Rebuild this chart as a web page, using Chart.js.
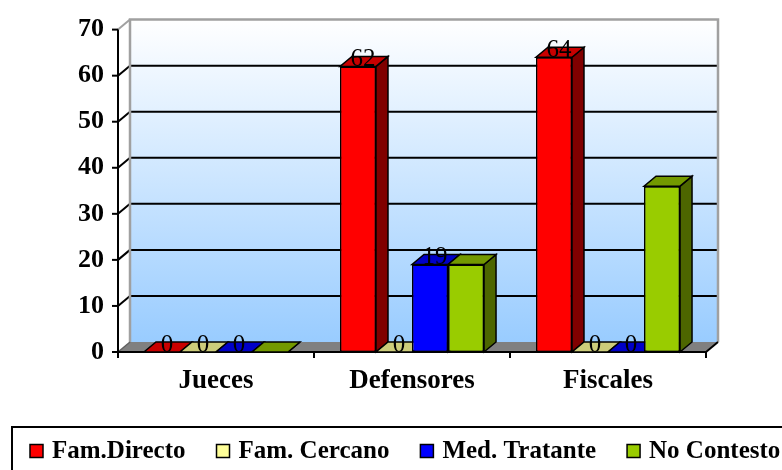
<!DOCTYPE html>
<html>
<head>
<meta charset="utf-8">
<script src="https://cdn.jsdelivr.net/npm/chart.js@4.4.1/dist/chart.umd.min.js"></script>
<style>
  html, body { margin: 0; padding: 0; background: #ffffff; }
  #wrap { width: 782px; height: 470px; }
</style>
</head>
<body>
<div id="wrap"><canvas id="chart" width="782" height="470"></canvas></div>
<script>
// Categories and series values
const categories = ['Jueces', 'Defensores', 'Fiscales'];
const famDirecto = [0, 62, 64];
const famCercano = [0, 0, 0];
const medTratante = [0, 19, 0];
const noContesto = [0, 19, 36];
const yTicks = [0, 10, 20, 30, 40, 50, 60, 70];

// Oblique depth of the pseudo-3D boxes and back wall
const DEPTH_X = 12;
const DEPTH_Y = -10;
const SERIF = '"Liberation Serif", "Times New Roman", serif';

function series(label, data, front, top, side, showValues) {
  return {
    label, data,
    backgroundColor: front,
    topColor: top,
    sideColor: side,
    showValues,
    borderColor: '#000000',
    borderWidth: 1.5,
    borderSkipped: false
  };
}

function poly(ctx, pts, fill, stroke, lw) {
  ctx.beginPath();
  ctx.moveTo(pts[0][0], pts[0][1]);
  for (let i = 1; i < pts.length; i++) ctx.lineTo(pts[i][0], pts[i][1]);
  ctx.closePath();
  if (fill) { ctx.fillStyle = fill; ctx.fill(); }
  if (stroke) { ctx.strokeStyle = stroke; ctx.lineWidth = lw || 1.5; ctx.stroke(); }
}

function line(ctx, x1, y1, x2, y2, color, lw) {
  ctx.beginPath();
  ctx.moveTo(x1, y1);
  ctx.lineTo(x2, y2);
  ctx.strokeStyle = color;
  ctx.lineWidth = lw;
  ctx.stroke();
}

// Back wall, floor, gridlines and axis lines
const stagePlugin = {
  id: 'stage',
  beforeDatasetsDraw(chart) {
    const { ctx, chartArea: a, scales: { x, y } } = chart;
    const L = a.left, R = a.right, T = y.getPixelForValue(yTicks[yTicks.length - 1]), B = y.getPixelForValue(0);
    ctx.save();
    // wall
    const g = ctx.createLinearGradient(0, T + DEPTH_Y, 0, B + DEPTH_Y);
    g.addColorStop(0, '#ffffff');
    g.addColorStop(1, '#99ccff');
    ctx.fillStyle = g;
    ctx.fillRect(L + DEPTH_X, T + DEPTH_Y, R - L, B - T);
    // gridlines on the wall
    yTicks.forEach(v => {
      if (v === 0 || v === yTicks[yTicks.length - 1]) return;
      const py = y.getPixelForValue(v);
      line(ctx, L, py, L + DEPTH_X, py + DEPTH_Y, '#000000', 2);
      line(ctx, L + DEPTH_X, py + DEPTH_Y, R + DEPTH_X, py + DEPTH_Y, '#000000', 2);
    });
    // wall frame
    ctx.lineJoin = 'miter';
    ctx.beginPath();
    ctx.moveTo(L + DEPTH_X, B + DEPTH_Y);
    ctx.lineTo(L + DEPTH_X, T + DEPTH_Y);
    ctx.lineTo(R + DEPTH_X, T + DEPTH_Y);
    ctx.lineTo(R + DEPTH_X, B + DEPTH_Y);
    ctx.strokeStyle = '#a0a0a0';
    ctx.lineWidth = 2.5;
    ctx.stroke();
    line(ctx, L, T, L + DEPTH_X, T + DEPTH_Y, '#a0a0a0', 2);
    // floor
    poly(ctx, [[L, B], [R, B], [R + DEPTH_X, B + DEPTH_Y], [L + DEPTH_X, B + DEPTH_Y]], '#808080', null);
    line(ctx, L, B, L + DEPTH_X, B + DEPTH_Y, '#606060', 1.5);
    line(ctx, R, B, R + DEPTH_X, B + DEPTH_Y, '#000000', 2);
    // value axis
    line(ctx, L, T, L, B + 5, '#000000', 2);
    yTicks.forEach(v => {
      const py = y.getPixelForValue(v);
      line(ctx, L - 6, py, L, py, '#000000', 2);
    });
    // category axis
    line(ctx, L, B, R, B, '#000000', 2);
    const n = categories.length;
    for (let i = 0; i <= n; i++) {
      let px;
      if (i === 0) px = L;
      else if (i === n) px = R;
      else px = (x.getPixelForValue(i - 1) + x.getPixelForValue(i)) / 2;
      line(ctx, px, B, px, B + 6, '#000000', 2);
    }
    ctx.restore();
  },
  afterDatasetsDraw(chart) {
    const { ctx } = chart;
    const metas = chart.data.datasets.map((_, d) => chart.getDatasetMeta(d));
    ctx.save();
    // boxes left to right so each front hides the neighbour's side
    for (let i = 0; i < categories.length; i++) {
      metas.forEach((meta, d) => {
        const ds = chart.data.datasets[d];
        const el = meta.data[i];
        const p = el.getProps(['x', 'y', 'base', 'width'], true);
        const l = p.x - p.width / 2, r = p.x + p.width / 2;
        const top = Math.min(p.y, p.base), bot = Math.max(p.y, p.base);
        poly(ctx, [[r, top], [r + DEPTH_X, top + DEPTH_Y], [r + DEPTH_X, bot + DEPTH_Y], [r, bot]], ds.sideColor, '#000000', 1.5);
        poly(ctx, [[l, top], [r, top], [r + DEPTH_X, top + DEPTH_Y], [l + DEPTH_X, top + DEPTH_Y]], ds.topColor, '#000000', 1.5);
        el.draw(ctx);
      });
    }
    // value labels
    ctx.font = '25px ' + SERIF;
    ctx.fillStyle = '#000000';
    ctx.textAlign = 'center';
    ctx.textBaseline = 'middle';
    metas.forEach((meta, d) => {
      const ds = chart.data.datasets[d];
      if (!ds.showValues) return;
      meta.data.forEach((el, i) => {
        const p = el.getProps(['x', 'y'], true);
        ctx.fillText(String(ds.data[i]), p.x + 5, p.y - 7);
      });
    });
    ctx.restore();
  }
};

// Boxed legend along the bottom edge
const legendPlugin = {
  id: 'boxLegend',
  afterDraw(chart) {
    const { ctx } = chart;
    ctx.save();
    ctx.strokeStyle = '#000000';
    ctx.lineWidth = 2;
    ctx.strokeRect(12, 427, 820, 80);
    ctx.font = 'bold 25px ' + SERIF;
    ctx.textAlign = 'left';
    ctx.textBaseline = 'middle';
    let px = 30;
    const cy = 451;
    chart.data.datasets.forEach(ds => {
      ctx.fillStyle = ds.backgroundColor;
      ctx.fillRect(px, cy - 6.5, 13, 13);
      ctx.lineWidth = 1.5;
      ctx.strokeRect(px, cy - 6.5, 13, 13);
      ctx.fillStyle = '#000000';
      ctx.fillText(ds.label, px + 22, cy + 1);
      px += 22 + ctx.measureText(ds.label).width + 31;
    });
    ctx.restore();
  }
};

new Chart(document.getElementById('chart'), {
  type: 'bar',
  data: {
    labels: categories,
    datasets: [
      series('Fam.Directo', famDirecto, '#ff0000', '#c80000', '#800000', true),
      series('Fam. Cercano', famCercano, '#ffff99', '#cccc7a', '#80804d', true),
      series('Med. Tratante', medTratante, '#0000ff', '#0000c8', '#000080', true),
      series('No Contesto', noContesto, '#99cc00', '#739900', '#4d6600', false)
    ]
  },
  options: {
    responsive: false,
    animation: false,
    devicePixelRatio: 1,
    layout: { padding: { left: 0, right: 76, top: 22, bottom: 72 } },
    datasets: { bar: { categoryPercentage: 0.735, barPercentage: 1 } },
    plugins: { legend: { display: false }, tooltip: { enabled: false } },
    scales: {
      x: {
        grid: { display: false, drawTicks: false },
        border: { display: false },
        ticks: { color: '#000000', padding: 13, font: { family: SERIF, size: 27, weight: 'bold' } },
        afterFit(scale) { scale.height = 46; }
      },
      y: {
        min: 0,
        max: 70,
        afterBuildTicks(scale) { scale.ticks = yTicks.map(v => ({ value: v })); },
        grid: { display: false, drawTicks: false },
        border: { display: false },
        ticks: { color: '#000000', padding: 14, font: { family: SERIF, size: 26, weight: 'bold' } },
        afterFit(scale) { scale.width = 118; }
      }
    }
  },
  plugins: [stagePlugin, legendPlugin]
});
</script>
</body>
</html>
